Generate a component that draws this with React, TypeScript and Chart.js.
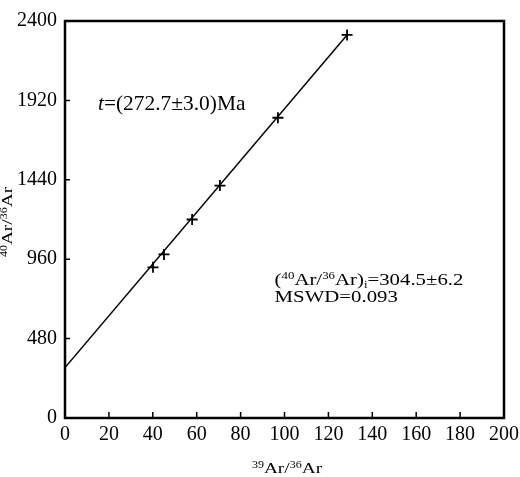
import React, { useEffect, useRef } from "react";
import { Chart, registerables } from "chart.js";

Chart.register(...registerables);

// ---- data ----
const ratio39_36 = [40.1, 45.1, 57.9, 70.6, 97.0, 128.5];
const ratio40_36 = [911, 989, 1200, 1405, 1815, 2316];
const fitX = [0, 128.5];
const fitY = [304.5, 2316];
const xTicks = [0, 20, 40, 60, 80, 100, 120, 140, 160, 180, 200];
const yTicks = [0, 480, 960, 1440, 1920, 2400];
const ageText = "(272.7±3.0)Ma";
const interceptText = "=304.5±6.2";
const mswdText = "MSWD=0.093";

const FONT = '"Liberation Serif", "Times New Roman", serif';

type Part = { t: string; sup?: boolean; sub?: boolean; italic?: boolean };

function measureRich(ctx: CanvasRenderingContext2D, parts: Part[], size: number) {
  let w = 0;
  for (const p of parts) {
    const fs = p.sup || p.sub ? size * 0.62 : size;
    ctx.font = `${p.italic ? "italic " : ""}${fs}px ${FONT}`;
    w += ctx.measureText(p.t).width;
  }
  return w;
}

function drawRich(ctx: CanvasRenderingContext2D, parts: Part[], size: number) {
  let cx = 0;
  ctx.textBaseline = "alphabetic";
  ctx.textAlign = "left";
  for (const p of parts) {
    const fs = p.sup || p.sub ? size * 0.62 : size;
    const dy = p.sup ? -size * 0.36 : p.sub ? size * 0.2 : 0;
    ctx.font = `${p.italic ? "italic " : ""}${fs}px ${FONT}`;
    ctx.fillText(p.t, cx, dy);
    cx += ctx.measureText(p.t).width;
  }
}

const framePlugin = {
  id: "frameAndText",
  afterDraw(chart: any) {
    const { ctx, chartArea: a, scales } = chart;
    const x = scales.x;
    const y = scales.y;
    ctx.save();
    ctx.fillStyle = "#000";
    ctx.strokeStyle = "#000";
    // frame
    ctx.lineWidth = 2.5;
    ctx.strokeRect(a.left, a.top, a.right - a.left, a.bottom - a.top);
    // inward ticks
    ctx.lineWidth = 1.5;
    ctx.beginPath();
    xTicks.forEach((v) => {
      if (v === xTicks[0]) return;
      const px = x.getPixelForValue(v);
      ctx.moveTo(px, a.bottom);
      ctx.lineTo(px, a.bottom - 6);
    });
    yTicks.forEach((v) => {
      if (v === yTicks[0] || v === yTicks[yTicks.length - 1]) return;
      const py = y.getPixelForValue(v);
      ctx.moveTo(a.left, py);
      ctx.lineTo(a.left + 5, py);
    });
    ctx.stroke();

    // age annotation
    ctx.save();
    ctx.translate(x.getPixelForValue(15), y.getPixelForValue(1862));
    ctx.scale(1.02, 1);
    drawRich(ctx, [{ t: "t", italic: true }, { t: "=" + ageText }], 21);
    ctx.restore();

    // intercept annotation
    const ax = x.getPixelForValue(95.5);
    const ay = y.getPixelForValue(804);
    ctx.save();
    ctx.translate(ax, ay);
    ctx.scale(1.3, 1);
    drawRich(
      ctx,
      [
        { t: "(" },
        { t: "40", sup: true },
        { t: "Ar/" },
        { t: "36", sup: true },
        { t: "Ar)" },
        { t: "i", sub: true },
        { t: interceptText },
      ],
      16
    );
    ctx.restore();
    ctx.save();
    ctx.translate(ax, ay + 17);
    ctx.scale(1.3, 1);
    drawRich(ctx, [{ t: mswdText }], 16);
    ctx.restore();

    // x axis title
    const xParts: Part[] = [
      { t: "39", sup: true },
      { t: "Ar/" },
      { t: "36", sup: true },
      { t: "Ar" },
    ];
    const sx = 1.29;
    const xw = measureRich(ctx, xParts, 15) * sx;
    ctx.save();
    ctx.translate(287 - xw / 2, 473);
    ctx.scale(sx, 1);
    drawRich(ctx, xParts, 15);
    ctx.restore();

    // y axis title
    const yParts: Part[] = [
      { t: "40", sup: true },
      { t: "Ar/" },
      { t: "36", sup: true },
      { t: "Ar" },
    ];
    const yw = measureRich(ctx, yParts, 15) * sx;
    ctx.save();
    ctx.translate(12, 222);
    ctx.rotate(-Math.PI / 2);
    ctx.translate(-yw / 2, 0);
    ctx.scale(sx, 1);
    drawRich(ctx, yParts, 15);
    ctx.restore();

    ctx.restore();
  },
};

export default function App() {
  const ref = useRef<HTMLCanvasElement | null>(null);
  useEffect(() => {
    if (!ref.current) return;
    const chart = new Chart(ref.current, {
      type: "scatter",
      data: {
        datasets: [
          {
            label: "fit",
            data: fitX.map((v, i) => ({ x: v, y: fitY[i] })),
            showLine: true,
            borderColor: "#000",
            borderWidth: 1.5,
            pointRadius: 0,
            fill: false,
          },
          {
            label: "samples",
            data: ratio39_36.map((v, i) => ({ x: v, y: ratio40_36[i] })),
            pointStyle: "cross",
            pointRadius: 5.5,
            borderColor: "#000",
            borderWidth: 1.8,
            backgroundColor: "#000",
          },
        ],
      },
      options: {
        animation: false,
        responsive: false,
        maintainAspectRatio: false,
        layout: { padding: { top: 21, right: 16, left: 0, bottom: 0 } },
        plugins: { legend: { display: false }, tooltip: { enabled: false } },
        scales: {
          x: {
            type: "linear",
            min: xTicks[0],
            max: xTicks[xTicks.length - 1],
            afterBuildTicks: (s: any) => {
              s.ticks = xTicks.map((v) => ({ value: v }));
            },
            afterFit: (s: any) => {
              s.height = 59;
              s.paddingLeft = 0;
              s.paddingRight = 0;
            },
            grid: { display: false, drawTicks: false },
            border: { display: false },
            ticks: {
              color: "#000",
              padding: 5,
              maxRotation: 0,
              autoSkip: false,
              font: { family: FONT, size: 20 },
              callback: (v: any) => String(v),
            },
          },
          y: {
            type: "linear",
            min: yTicks[0],
            max: yTicks[yTicks.length - 1],
            afterBuildTicks: (s: any) => {
              s.ticks = yTicks.map((v) => ({ value: v }));
            },
            afterFit: (s: any) => {
              s.width = 65;
              s.paddingTop = 0;
              s.paddingBottom = 0;
            },
            grid: { display: false, drawTicks: false },
            border: { display: false },
            ticks: {
              color: "#000",
              padding: 8,
              autoSkip: false,
              font: { family: FONT, size: 20 },
              callback: (v: any) => String(v),
            },
          },
        },
      },
      plugins: [framePlugin],
    });
    return () => chart.destroy();
  }, []);
  return (
    <div style={{ position: "fixed", left: 0, top: 0, width: 520, height: 477, background: "#fff" }}>
      <canvas ref={ref} width={520} height={477} style={{ width: 520, height: 477, display: "block" }} />
    </div>
  );
}
